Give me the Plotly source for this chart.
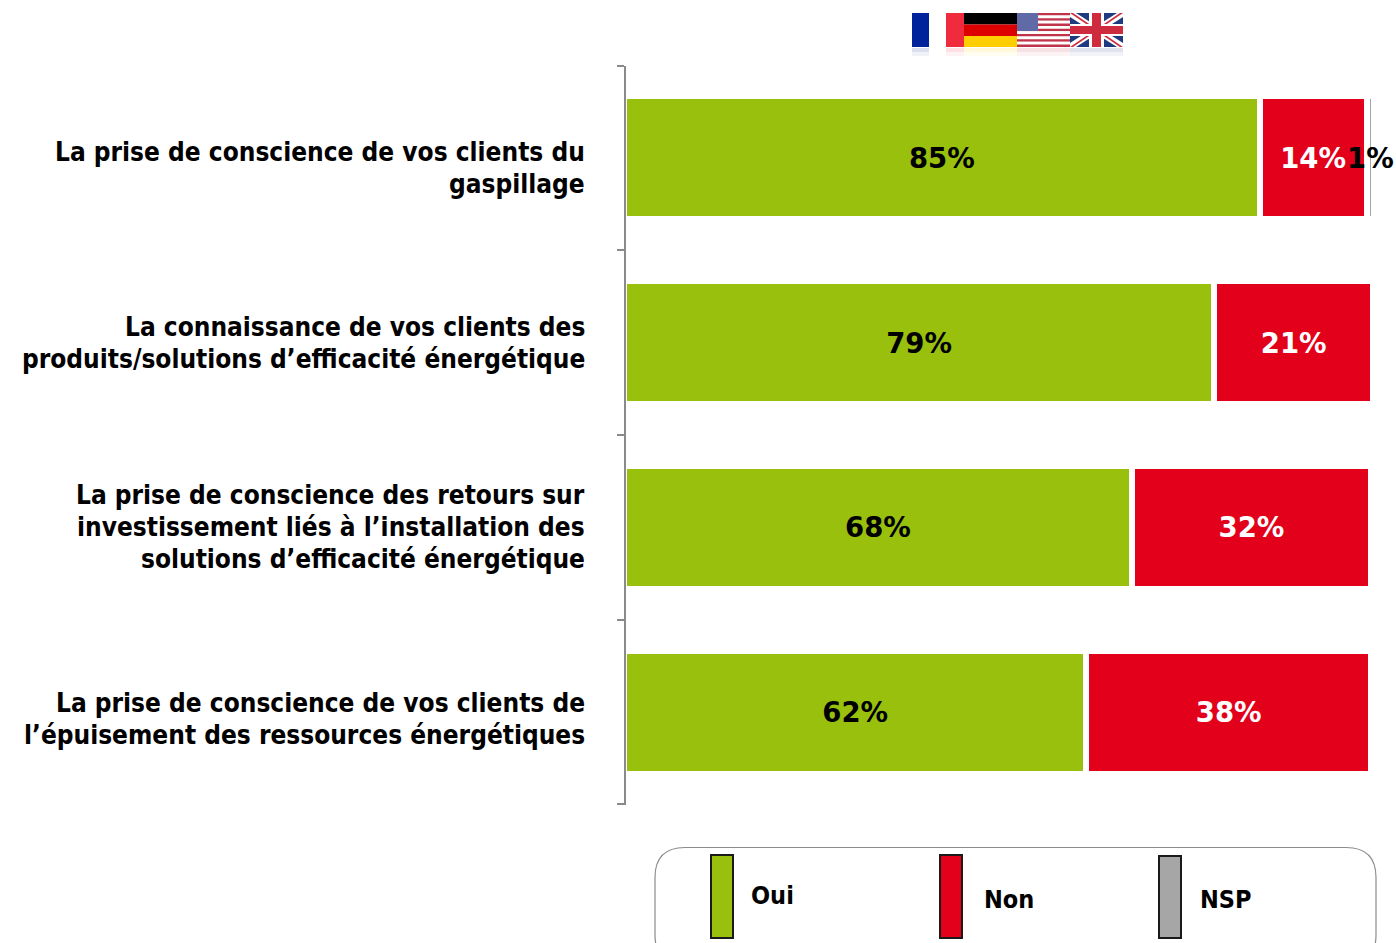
import plotly.graph_objects as go

categories = [
    "La prise de conscience de vos clients du gaspillage",
    "La connaissance de vos clients des produits/solutions d’efficacité énergétique",
    "La prise de conscience des retours sur investissement liés à l’installation des solutions d’efficacité énergétique",
    "La prise de conscience de vos clients de l’épuisement des ressources énergétiques",
]
category_lines = [
    ["La prise de conscience de vos clients du", "gaspillage"],
    ["La connaissance de vos clients des", "produits/solutions d’efficacité énergétique"],
    ["La prise de conscience des retours sur", "investissement liés à l’installation des", "solutions d’efficacité énergétique"],
    ["La prise de conscience de vos clients de", "l’épuisement des ressources énergétiques"],
]
first_line_y = [152, 327, 495, 703]
oui = [85.1, 79, 68, 61.9]
non = [14.3, 21.3, 32, 38.1]
nsp = [1.05, None, None, None]
labels_oui = ["85%", "79%", "68%", "62%"]
labels_non = ["14%", "21%", "32%", "38%"]
labels_nsp = ["1%", "", "", ""]

GREEN, RED, GREY = "#99C00D", "#E2001A", "#A6A6A6"
W, H = 1396, 943
LABEL_FONT = "DejaVu Sans Condensed"
NUM_FONT = "DejaVu Sans"


def px(v):
    return v / W


def py(v):
    return 1 - v / H


shapes = []
annotations = []


def rect(x0, y0, x1, y1, fill, line=None, lw=0, opacity=1):
    shapes.append(dict(type="rect", xref="paper", yref="paper", x0=px(x0), x1=px(x1), y0=py(y0), y1=py(y1),
                       fillcolor=fill, opacity=opacity, layer="above",
                       line=dict(color=line or fill, width=lw)))


def poly(points, fill):
    d = "M" + " L".join(f"{px(a):.5f},{py(b):.5f}" for a, b in points) + " Z"
    shapes.append(dict(type="path", xref="paper", yref="paper", path=d, fillcolor=fill,
                       line=dict(width=0), layer="above"))


# category labels, one annotation per line for the 32px leading
for lines, y0 in zip(category_lines, first_line_y):
    for i, line in enumerate(lines):
        annotations.append(dict(text=f"<b>{line}</b>", xref="paper", yref="paper", x=px(586.5), y=py(y0 + 32 * i),
                                showarrow=False, xanchor="right", yanchor="middle", xshift=0,
                                font=dict(family=LABEL_FONT, size=26, color="black")))

# closing tick of the bracket
shapes.append(dict(type="line", xref="paper", yref="paper", x0=px(617), x1=px(625), y0=py(804), y1=py(804),
                   line=dict(color="#8A8A8A", width=2), layer="above"))

# legend frame
x0, x1, y0, y1, r = 655, 1376, 847.5, 965, 30
frame = (f"M{px(x0+r):.5f},{py(y0):.5f} L{px(x1-r):.5f},{py(y0):.5f} "
         f"Q{px(x1):.5f},{py(y0):.5f} {px(x1):.5f},{py(y0+r):.5f} "
         f"L{px(x1):.5f},{py(y1-r):.5f} Q{px(x1):.5f},{py(y1):.5f} {px(x1-r):.5f},{py(y1):.5f} "
         f"L{px(x0+r):.5f},{py(y1):.5f} Q{px(x0):.5f},{py(y1):.5f} {px(x0):.5f},{py(y1-r):.5f} "
         f"L{px(x0):.5f},{py(y0+r):.5f} Q{px(x0):.5f},{py(y0):.5f} {px(x0+r):.5f},{py(y0):.5f} Z")
shapes.append(dict(type="path", xref="paper", yref="paper", path=frame, fillcolor="white",
                   line=dict(color="#8C8C8C", width=1.2), layer="below"))
for sx, sy0, color, name, tx, ty in [
    (711, 855, GREEN, "Oui", 773, 895),
    (940, 855, RED, "Non", 1009, 899),
    (1159, 856, GREY, "NSP", 1226, 899),
]:
    rect(sx, sy0, sx + 22, 938, color, "#1A1A1A", 2)
    annotations.append(dict(text=f"<b>{name}</b>", xref="paper", yref="paper", x=px(tx), y=py(ty), showarrow=False,
                            xanchor="center", yanchor="middle", font=dict(family=LABEL_FONT, size=25, color="black")))

# flags
rect(912, 13, 929, 47, "#00239C")
rect(946, 13, 964, 47, "#EF2B3D")
rect(964, 13, 1017, 24.5, "#000000")
rect(964, 24.5, 1017, 36, "#DD0000")
rect(964, 36, 1017, 47, "#FFCE00")
for i in range(13):
    rect(1017, 13 + i * 34 / 13, 1070, 13 + (i + 1) * 34 / 13, "#C0344A" if i % 2 == 0 else "#FFFFFF")
rect(1017, 13, 1038, 31, "#5F6AA6")
rect(1070, 13, 1123, 47, "#1F3B80")
poly([(1070, 13), (1076, 13), (1123, 43), (1123, 47), (1117, 47), (1070, 17)], "#FFFFFF")
poly([(1123, 13), (1117, 13), (1070, 43), (1070, 47), (1076, 47), (1123, 17)], "#FFFFFF")
poly([(1070, 13), (1073, 13), (1095, 28), (1092, 28)], "#CF2B3F")
poly([(1123, 47), (1120, 47), (1098, 32), (1101, 32)], "#CF2B3F")
poly([(1123, 13), (1120, 13), (1098, 28), (1101, 28)], "#CF2B3F")
poly([(1070, 47), (1073, 47), (1095, 32), (1092, 32)], "#CF2B3F")
rect(1089, 13, 1104, 47, "#FFFFFF")
rect(1070, 24, 1123, 36, "#FFFFFF")
rect(1092, 13, 1101, 47, "#CF2B3F")
rect(1070, 26, 1123, 34, "#CF2B3F")
# flag reflections
for a, b, c in [(912, 929, "#00239C"), (946, 964, "#EF2B3D"), (964, 1017, "#FFCE00"), (1017, 1070, "#C0344A"), (1070, 1123, "#1F3B80")]:
    rect(a, 48, b, 52, c, opacity=0.14)
    rect(a, 52, b, 56, c, opacity=0.06)


def trace(values, text, color, tcolor, name):
    return go.Bar(y=categories, x=values, name=name, orientation="h", text=text, textposition="inside",
                  insidetextanchor="middle", textangle=0, constraintext="none", cliponaxis=False,
                  insidetextfont=dict(family=NUM_FONT, size=27.5, color=tcolor, weight="bold"),
                  marker=dict(color=color, line=dict(color="white", width=6)), hoverinfo="skip")


fig = go.Figure([
    trace(oui, labels_oui, GREEN, "black", "Oui"),
    trace(non, labels_non, RED, "white", "Non"),
    trace(nsp, labels_nsp, GREY, "black", "NSP"),
])
fig.update_layout(
    width=W, height=H, autosize=False, barmode="stack", bargap=0.335, showlegend=False,
    margin=dict(l=0, r=0, t=0, b=0, pad=0), plot_bgcolor="white", paper_bgcolor="white",
    shapes=shapes, annotations=annotations,
    xaxis=dict(domain=[px(624), 1], range=[0, 772 / 7.47], visible=False, fixedrange=True),
    yaxis=dict(domain=[py(804.5), py(65.5)], autorange="reversed", type="category", tickson="boundaries", side="left",
               anchor="free", position=px(624.5), showline=True, linecolor="#8A8A8A", linewidth=2, ticks="outside", ticklen=7,
               tickcolor="#8A8A8A", tickwidth=2, showgrid=False, showticklabels=False, fixedrange=True),
)
fig.write_html("out.html", config={"displayModeBar": False},
               post_script="document.body.style.margin='0';document.body.style.overflow='hidden';")
